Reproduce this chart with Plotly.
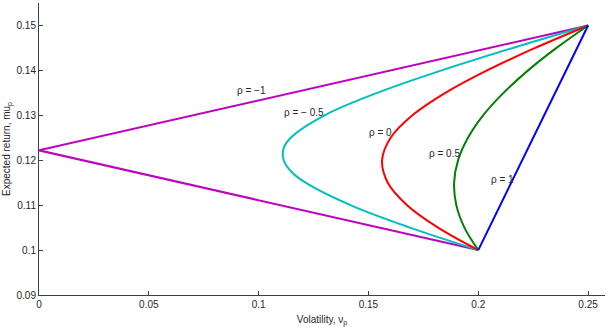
import plotly.graph_objects as go

# Expected return of the portfolio
ret_curve = [0.100, 0.105, 0.110, 0.115, 0.120, 0.125, 0.130, 0.135, 0.140, 0.145, 0.150]
ret_m05 = [0.100, 0.105, 0.110, 0.115, 0.1175, 0.120, 0.1225, 0.125, 0.130, 0.135, 0.140, 0.145, 0.150]

# Volatility for each correlation
vol_m1 = [0.200, 0.000, 0.250]
ret_m1 = [0.100, 0.1222, 0.150]
vol_m05 = [0.200, 0.1689, 0.1418, 0.1214, 0.1148, 0.1114, 0.1113, 0.1146, 0.130, 0.1540, 0.1833, 0.2157, 0.250]
vol_0 = [0.200, 0.1817, 0.1676, 0.1588, 0.1562, 0.1601, 0.170, 0.185, 0.2040, 0.2259, 0.250]
vol_05 = [0.200, 0.1937, 0.190, 0.1890, 0.1908, 0.1953, 0.2022, 0.2115, 0.2227, 0.2356, 0.250]
vol_1 = [0.200, 0.250]
ret_1 = [0.100, 0.150]

labels = ["ρ = −1", "ρ = − 0.5", "ρ = 0", "ρ = 0.5", "ρ = 1"]
label_x = [0.0893, 0.1107, 0.1494, 0.1767, 0.2049]
label_y = [0.1356, 0.1307, 0.1262, 0.1216, 0.1157]

x_ticks = [0, 0.05, 0.1, 0.15, 0.2, 0.25]
x_ticklabels = ["0", "0.05", "0.1", "0.15", "0.2", "0.25"]
y_ticks = [0.09, 0.10, 0.11, 0.12, 0.13, 0.14, 0.15]
y_ticklabels = ["0.09", "0.1", "0.11", "0.12", "0.13", "0.14", "0.15"]

fig = go.Figure()
series = [
    (vol_m1, ret_m1, "#bf00bf", "linear"),
    (vol_m05, ret_m05, "#00bfbf", "spline"),
    (vol_0, ret_curve, "#ff0000", "spline"),
    (vol_05, ret_curve, "#008000", "spline"),
    (vol_1, ret_1, "#0000ff", "linear"),
]
for xs, ys, col, shape in series:
    fig.add_trace(go.Scatter(x=xs, y=ys, mode="lines",
                             line=dict(color=col, width=2, shape=shape),
                             showlegend=False))

for t, lx, ly in zip(labels, label_x, label_y):
    fig.add_annotation(x=lx, y=ly, text=t, showarrow=False, xanchor="left",
                       yanchor="middle", font=dict(size=10, color="#262626"))

axis_common = dict(showline=True, linecolor="#404040", linewidth=1, ticks="inside",
                   ticklen=4, tickcolor="#404040", showgrid=False, zeroline=False,
                   tickfont=dict(size=10, color="#262626"))

fig.update_layout(
    width=608, height=327,
    margin=dict(l=39, r=3, t=3, b=32),
    paper_bgcolor="white", plot_bgcolor="white",
    font=dict(family="Liberation Sans, Arial, sans-serif", size=10, color="#262626"),
    xaxis=dict(range=[0, 0.2577], tickvals=x_ticks, ticktext=x_ticklabels,
               title=dict(text="Volatility, ν<sub>p</sub>", standoff=6,
                          font=dict(size=10)), **axis_common),
    yaxis=dict(range=[0.09, 0.155], tickvals=y_ticks, ticktext=y_ticklabels,
               title=dict(text="Expected return, mu<sub>p</sub>", standoff=4,
                          font=dict(size=10)), **axis_common),
)

fig.write_html("out.html")
